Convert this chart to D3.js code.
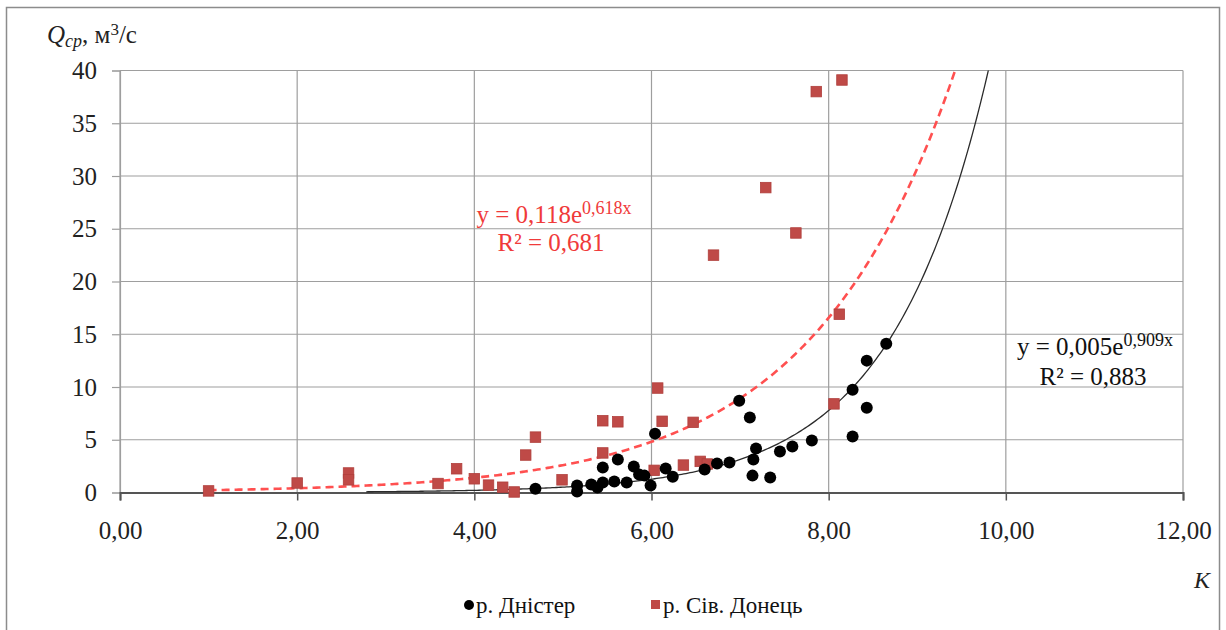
<!DOCTYPE html>
<html>
<head>
<meta charset="utf-8">
<script src="https://cdn.jsdelivr.net/npm/d3@7"></script>
<style>
  html, body { margin: 0; padding: 0; background: #fff; }
</style>
</head>
<body>
<svg id="chart" width="1226" height="630"></svg>
<script>
// р. Дністер — K vs Q (m3/s)
const dnisterK = [4.69, 5.16, 5.16, 5.32, 5.39, 5.45, 5.45, 5.58, 5.62, 5.72, 5.80, 5.86, 5.92, 5.99,
                  6.04, 6.16, 6.24, 6.60, 6.74, 6.88, 6.99, 7.11, 7.18, 7.15, 7.14, 7.34, 7.45, 7.59,
                  7.81, 8.27, 8.27, 8.43, 8.43, 8.65];
const dnisterQ = [0.35, 0.66, 0.1, 0.76, 0.47, 0.95, 2.36, 1.04, 3.12, 0.95, 2.46, 1.7, 1.6, 0.66,
                  5.58, 2.27, 1.5, 2.17, 2.74, 2.84, 8.7, 7.1, 4.16, 3.12, 1.6, 1.42, 3.88, 4.35,
                  4.92, 9.74, 5.3, 12.5, 8.04, 14.1];

// р. Сів. Донець — K vs Q (m3/s)
const donetsK = [1.00, 2.00, 2.58, 2.58, 3.59, 3.80, 4.00, 4.16, 4.32, 4.45, 4.58, 4.69, 4.99, 5.45,
                 5.62, 5.45, 6.03, 6.07, 6.12, 6.47, 6.36, 6.55, 6.63, 6.70, 7.29, 7.63, 7.86, 8.15,
                 8.12, 8.06];
const donetsQ = [0.15, 0.9, 1.85, 1.2, 0.85, 2.25, 1.3, 0.7, 0.5, 0.05, 3.55, 5.25, 1.2, 6.8,
                 6.7, 3.75, 2.1, 9.9, 6.75, 6.65, 2.6, 2.95, 2.7, 22.5, 28.9, 24.6, 38.0, 39.1,
                 16.9, 8.4];

// Exponential trend lines y = a·e^(b·x) and their ranges
const dnisterTrend = { a: 0.0054, b: 0.909, r2: 0.883, from: 2.78 };
const donetsTrend  = { a: 0.118,  b: 0.618, r2: 0.681, from: 1.00 };

const xTicks = [0, 2, 4, 6, 8, 10, 12];
const yTicks = [0, 5, 10, 15, 20, 25, 30, 35, 40];
const seriesNames = ["р. Дністер", "р. Сів. Донець"];

const FONT = "'Liberation Serif', 'Times New Roman', serif";
const svg = d3.select("#chart");
const x = d3.scaleLinear().domain([0, 12]).range([120, 1183]);
const y = d3.scaleLinear().domain([0, 40]).range([492.5, 70.5]);
const comma = s => s.replace(".", ",");

// outer frame
svg.append("rect")
  .attr("x", 6.5).attr("y", 7.5).attr("width", 1213).attr("height", 640)
  .attr("fill", "none").attr("stroke", "#8c8c8c").attr("stroke-width", 1.5);

// grid
const grid = svg.append("g");
grid.selectAll("line.h").data(yTicks.filter(d => d > 0)).join("line")
  .attr("x1", x(0)).attr("x2", x(12))
  .attr("y1", d => y(d)).attr("y2", d => y(d))
  .attr("stroke", "#9e9e9e").attr("stroke-width", 1.2);
grid.selectAll("line.v").data(xTicks).join("line")
  .attr("x1", d => x(d)).attr("x2", d => x(d))
  .attr("y1", y(40)).attr("y2", y(0))
  .attr("stroke", "#9e9e9e").attr("stroke-width", 1.2);

// y axis
const yAxis = svg.append("g").attr("transform", `translate(${x(0)},0)`)
  .call(d3.axisLeft(y).tickValues(yTicks).tickSize(8).tickPadding(15).tickFormat(d3.format("d")));
yAxis.select(".domain").attr("stroke", "#9e9e9e").attr("stroke-width", 1.2);
yAxis.selectAll(".tick line").attr("stroke", "#9e9e9e").attr("stroke-width", 1.2);
yAxis.selectAll("text").attr("font-size", 25).attr("fill", "#222");

// x axis
const xAxis = svg.append("g").attr("transform", `translate(0,${y(0)})`)
  .call(d3.axisBottom(x).tickValues(xTicks).tickSize(8).tickPadding(21)
    .tickFormat(d => comma(d3.format(".2f")(d))));
xAxis.select(".domain").attr("stroke", "#555").attr("stroke-width", 2);
xAxis.selectAll(".tick line").attr("stroke", "#555").attr("stroke-width", 1.5);
xAxis.selectAll("text").attr("font-size", 25).attr("fill", "#222");

// clip for trend lines
svg.append("clipPath").attr("id", "plot-clip").append("rect")
  .attr("x", x(0)).attr("y", y(40)).attr("width", x(12) - x(0)).attr("height", y(0) - y(40) + 2);

const trendPts = t => {
  const xmax = Math.min(12, Math.log(42 / t.a) / t.b);
  return d3.range(0, 301).map(i => {
    const k = t.from + (xmax - t.from) * i / 300;
    return [k, t.a * Math.exp(t.b * k)];
  });
};
const line = d3.line().x(d => x(d[0])).y(d => y(d[1]));

const trends = svg.append("g").attr("clip-path", "url(#plot-clip)");
trends.append("path").datum(trendPts(dnisterTrend)).attr("d", line)
  .attr("fill", "none").attr("stroke", "#2b2b2b").attr("stroke-width", 1.3);
trends.append("path").datum(trendPts(donetsTrend)).attr("d", line)
  .attr("fill", "none").attr("stroke", "#ff5050").attr("stroke-width", 2.6)
  .attr("stroke-dasharray", "8,5");

// points: Донець squares, Дністер dots
const sq = 10.5;
svg.append("g").selectAll("rect").data(d3.zip(donetsK, donetsQ)).join("rect")
  .attr("x", d => x(d[0]) - sq / 2).attr("y", d => y(d[1]) - sq / 2)
  .attr("width", sq).attr("height", sq)
  .attr("fill", "#bf4a47").attr("stroke", "#b03f3c").attr("stroke-width", 0.8);
svg.append("g").selectAll("circle").data(d3.zip(dnisterK, dnisterQ)).join("circle")
  .attr("cx", d => x(d[0])).attr("cy", d => y(d[1])).attr("r", 6)
  .attr("fill", "#000");

// trend equations
function equation(t, color, cx, yBase, rx, rBase) {
  const g = svg.append("g").attr("fill", color).attr("text-anchor", "middle");
  const t1 = g.append("text").attr("x", cx).attr("y", yBase).attr("font-size", 25);
  t1.append("tspan").text(`y = ${comma(d3.format(".3f")(t.a))}e`);
  t1.append("tspan").attr("dy", -9).attr("font-size", 18).text(`${comma(d3.format(".3f")(t.b))}x`);
  g.append("text").attr("x", rx).attr("y", rBase).attr("font-size", 25)
    .text(`R² = ${comma(d3.format(".3f")(t.r2))}`);
}
equation(donetsTrend, "#f03a3a", 554, 223, 551, 251);
equation(dnisterTrend, "#111", 1095, 355, 1093, 385);

// axis titles
const yt = svg.append("text").attr("x", 47).attr("y", 43).attr("font-size", 25).attr("fill", "#222");
yt.append("tspan").attr("font-style", "italic").text("Q");
yt.append("tspan").attr("font-style", "italic").attr("font-size", 18).attr("dy", 4).text("cp");
yt.append("tspan").attr("dy", -4).text(", м");
yt.append("tspan").attr("font-size", 17).attr("dy", -8).text("3");
yt.append("tspan").attr("dy", 8).text("/с");

svg.append("text").attr("x", 1194).attr("y", 588).attr("font-size", 24)
  .attr("font-style", "italic").attr("fill", "#222").text("K");

// legend
const lg = svg.append("g").attr("font-size", 23).attr("fill", "#111");
lg.append("circle").attr("cx", 469).attr("cy", 605).attr("r", 5).attr("fill", "#000");
lg.append("text").attr("x", 476).attr("y", 613).text(seriesNames[0]);
lg.append("rect").attr("x", 651).attr("y", 600).attr("width", 9).attr("height", 9).attr("fill", "#bf4a47");
lg.append("text").attr("x", 663).attr("y", 613).text(seriesNames[1]);

// serif face for every label
svg.selectAll("text").style("font-family", FONT);
</script>
</body>
</html>
